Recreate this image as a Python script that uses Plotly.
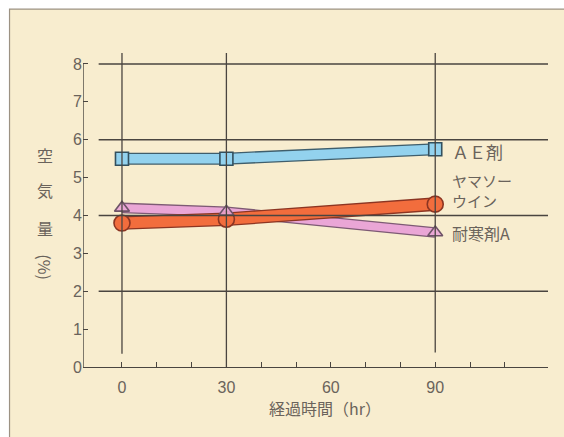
import plotly.graph_objects as go

# Elapsed time (hr) and air content (%) for each admixture
hours = [0, 30, 90]
ae_agent = [5.5, 5.5, 5.75]          # AE剤
yamaso_win = [3.8, 3.9, 4.3]         # ヤマソーウイン
antifreeze_a = [4.2, 4.1, 3.55]      # 耐寒剤A

x_tick_labels = ["0", "30", "60", "90"]
y_tick_labels = ["0", "1", "2", "3", "4", "5", "6", "7", "8"]
series_labels = ["ＡＥ剤", "ヤマソー<br>ウイン", "耐寒剤A"]
y_title_chars = ["空", "気", "量"]

BG = "#f8edcf"
GRID = "#4a4540"
TEXT = "#6a635b"
JP = "Noto Sans CJK JP"
NUM = "Liberation Sans"

fig = go.Figure()


def band(x, y, fill, edge, width):
    # a thick line drawn as a dark outline with a lighter fill on top
    fig.add_trace(go.Scatter(x=x, y=y, mode="lines", hoverinfo="skip",
                             line=dict(color=edge, width=width + 2.6)))
    fig.add_trace(go.Scatter(x=x, y=y, mode="lines", hoverinfo="skip",
                             line=dict(color=fill, width=width)))


def markers(x, y, symbol, size, fill, edge):
    fig.add_trace(go.Scatter(x=x, y=y, mode="markers", hoverinfo="skip",
                             marker=dict(symbol=symbol, size=size, color=fill,
                                         line=dict(color=edge, width=1.6))))


band(hours, antifreeze_a, "#eaa6d6", "#7d5a74", 8)
band(hours, yamaso_win, "#f26d3d", "#8c3522", 11)
markers(hours, yamaso_win, "circle", 16, "#f26d3d", "#8c3522")
markers(hours, antifreeze_a, "triangle-up", 13, "rgba(234,166,214,0.9)", "#6e5468")
band(hours, ae_agent, "#93d2ee", "#3f5e6c", 9.5)
markers(hours, ae_agent, "square", 13, "#93d2ee", "#33505e")

# frame around the chart (open on the right and bottom edges)
fig.add_shape(type="rect", xref="paper", yref="paper",
              x0=-0.158, x1=1.2, y0=-0.4, y1=1.140,
              fillcolor=BG, line=dict(color="#9c9283", width=1.2), layer="below")

# horizontal reference lines, offset from the vertical axis
for v in [2, 4, 6, 8]:
    fig.add_shape(type="line", xref="x", yref="y", x0=-6.7, x1=122.4, y0=v, y1=v,
                  line=dict(color=GRID, width=1.3))

# vertical reference lines at the measurement times
for h, bottom in zip(hours, [0.35, 0.0, 0.38]):
    fig.add_shape(type="line", xref="x", yref="y", x0=h, x1=h, y0=bottom, y1=8.3,
                  line=dict(color=GRID, width=1.3))

# vertical axis line from 0 to 8
fig.add_shape(type="line", xref="x", yref="y", x0=-11.2, x1=-11.2, y0=0, y1=8,
              line=dict(color=GRID, width=1.4))

# series names at the right end of each line
label_pos = [5.68, 4.65, 3.55]
label_size = [17, 15, 16]
for text, yv, sz in zip(series_labels, label_pos, label_size):
    fig.add_annotation(x=94.3, y=yv, xref="x", yref="y", text=text, showarrow=False,
                       xanchor="left", yanchor="middle", align="left",
                       font=dict(family=JP, size=sz, color=TEXT))

# stacked vertical axis title
for ch, py in zip(y_title_chars, [0.675, 0.564, 0.443]):
    fig.add_annotation(x=-0.082, y=py, xref="paper", yref="paper", text=ch,
                       showarrow=False, xanchor="center", yanchor="middle",
                       font=dict(family=JP, size=16, color=TEXT))
fig.add_annotation(x=-0.082, y=0.318, xref="paper", yref="paper", text="(%)",
                   textangle=90, showarrow=False, xanchor="center", yanchor="middle",
                   font=dict(family=JP, size=16, color=TEXT))

fig.add_annotation(x=0.52, y=-0.13, xref="paper", yref="paper", text="経過時間（hr）",
                   showarrow=False, yanchor="middle",
                   font=dict(family=JP, size=16, color=TEXT))

x_ticks = list(range(0, 120, 10))
x_text = [t_label if t_label in x_tick_labels else "" for t_label in map(str, x_ticks)]

fig.update_layout(
    width=564, height=437,
    margin=dict(l=83, r=16, t=53, b=70),
    paper_bgcolor="white", plot_bgcolor=BG,
    showlegend=False,
    xaxis=dict(range=[-11.2, 122.4], showgrid=False, zeroline=False,
               showline=True, linecolor=GRID, linewidth=1.4,
               tickmode="array", tickvals=x_ticks, ticktext=x_text,
               ticks="inside", ticklen=5, tickcolor=GRID, tickwidth=1.2,
               ticklabelstandoff=6,
               tickfont=dict(family=NUM, size=16, color=TEXT)),
    yaxis=dict(range=[0, 8.29], showgrid=False, zeroline=False, showline=False,
               tickmode="array", tickvals=list(range(9)), ticktext=y_tick_labels,
               ticks="inside", ticklen=5, tickcolor=GRID, tickwidth=1.2,
               tickfont=dict(family=NUM, size=16, color=TEXT)),
)

fig.write_html("out.html")
